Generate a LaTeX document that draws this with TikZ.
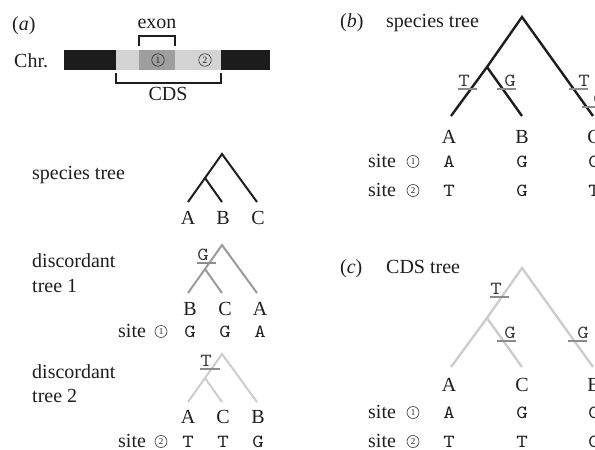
\documentclass[tikz,border=0pt]{standalone}
\usepackage{fontspec}
\setmainfont{Liberation Serif}
\setmonofont{lmmono10-regular.otf}[FakeStretch=1.18]

\definecolor{ink}{HTML}{1E1E1E}
\definecolor{chrblack}{HTML}{1C1C1C}
\definecolor{cdslight}{HTML}{D4D4D4}
\definecolor{exondark}{HTML}{9E9E9E}
\definecolor{treegray}{HTML}{9A9A9A}
\definecolor{treelight}{HTML}{CDCDCD}
\definecolor{mutgray}{HTML}{8C8C8C}
\definecolor{mutink}{HTML}{3A3A3A}

% a substitution: underlined base letter crossing a branch
% #1 name, #2 letter x, #3 line y, #4 line start x, #5 line end x, #6 base
\newcommand{\mutmark}[6]{%
  \draw[mutline] (#4,#3) -- (#5,#3);
  \node[nuc, text=mutink] (#1) at (#2,#3-2.5) {#6};}

% "site" with its circled number; #1 name, #2 x of "site", #3 x of circle, #4 baseline, #5 digit
\newcommand{\siterow}[5]{%
  \node[lefttext] (#1) at (#2,#4) {site};
  \node[sitenum] (#1n) at (#3,#4-5.5) {#5};}

\begin{document}
\begin{tikzpicture}[x=1pt,y=-1pt,
  serif/.style={inner sep=0pt, font=\fontsize{20}{24}\selectfont, text=ink},
  lefttext/.style={serif, anchor=base west},
  tiplab/.style={serif, anchor=base},
  nuc/.style={inner sep=0pt, anchor=base, font=\ttfamily\fontsize{18.5}{20}\selectfont, text=ink},
  sitenum/.style={circle, draw=ink, line width=0.55pt, inner sep=0pt,
    minimum size=12pt, font=\fontsize{9}{9}\selectfont, text=ink},
  branch/.style={line width=2pt, line join=miter},
  thick branch/.style={line width=2.4pt, line join=miter},
  mutline/.style={draw=mutgray, line width=1.8pt},
  bracket/.style={draw=ink, line width=1.5pt, line join=miter}]

\useasboundingbox (0,0) rectangle (595,450);
\clip (0,0) rectangle (595,450);

% ---------------- (a) chromosome ----------------
\node[lefttext] (alab) at (12,30) {(\textit{a})};
\node[lefttext] (chr) at (14,67) {Chr.};
\fill[chrblack] (64,50) rectangle (116,70);
\fill[cdslight] (116,50) rectangle (139,70);
\fill[exondark] (139,50) rectangle (175,70);
\fill[cdslight] (175,50) rectangle (221,70);
\fill[chrblack] (221,50) rectangle (270,70);
\node[sitenum, minimum size=12.5pt, font=\fontsize{9.5}{9.5}\selectfont] (c1) at (158,60) {1};
\node[sitenum, minimum size=12.5pt, font=\fontsize{9.5}{9.5}\selectfont] (c2) at (205,60) {2};
\draw[bracket] (139,46) -- (139,36) -- (175,36) -- (175,46);
\node[tiplab] (exon) at (157,28) {exon};
\draw[bracket] (116,73) -- (116,83) -- (221,83) -- (221,73);
\node[tiplab] (cds) at (168,100) {CDS};

% ---------------- (a) species tree ----------------
\node[lefttext] (sptxt) at (32,179) {species tree};
\coordinate (sR) at (222,154);
\coordinate (sI) at (205,178);
\coordinate (sA) at (188,202);
\coordinate (sB) at (222,202);
\coordinate (sC) at (257,202);
\draw[branch, draw=ink] (sA) -- (sI) -- (sR) -- (sC);
\draw[branch, draw=ink] (sI) -- (sB);
\node[tiplab] (sAl) at (188,224) {A};
\node[tiplab] (sBl) at (223,224) {B};
\node[tiplab] (sCl) at (258,224) {C};

% ---------------- (a) discordant tree 1 ----------------
\node[lefttext] (d1a) at (32,267) {discordant};
\node[lefttext] (d1b) at (32,292) {tree 1};
\coordinate (aR) at (222,245);
\coordinate (aI) at (205,269);
\coordinate (aB) at (188,293);
\coordinate (aC) at (222,293);
\coordinate (aA) at (257,293);
\draw[branch, draw=treegray] (aB) -- (aI) -- (aR) -- (aA);
\draw[branch, draw=treegray] (aI) -- (aC);
\mutmark{m1}{203}{263}{197}{216}{G}
\node[tiplab] (aBl) at (190,315) {B};
\node[tiplab] (aCl) at (225,315) {C};
\node[tiplab] (aAl) at (260,315) {A};
\siterow{s1}{118}{161}{337}{1}
\node[nuc] (v11) at (190,337) {G};
\node[nuc] (v12) at (225,337) {G};
\node[nuc] (v13) at (260,337) {A};

% ---------------- (a) discordant tree 2 ----------------
\node[lefttext] (d2a) at (32,378) {discordant};
\node[lefttext] (d2b) at (32,402) {tree 2};
\coordinate (bR) at (222,354);
\coordinate (bI) at (205,378);
\coordinate (bA) at (188,402);
\coordinate (bC) at (222,402);
\coordinate (bB) at (257,402);
\draw[branch, draw=treelight] (bA) -- (bI) -- (bR) -- (bB);
\draw[branch, draw=treelight] (bI) -- (bC);
\mutmark{m2}{206}{369}{200}{220}{T}
\node[tiplab] (bAl) at (188,423) {A};
\node[tiplab] (bCl) at (223,423) {C};
\node[tiplab] (bBl) at (258,423) {B};
\siterow{s2}{118}{161}{447}{2}
\node[nuc] (v21) at (188,447) {T};
\node[nuc] (v22) at (223,447) {T};
\node[nuc] (v23) at (258,447) {G};

% ---------------- (b) species tree with substitutions ----------------
\node[lefttext] (blab) at (340,27) {(\textit{b})};
\node[lefttext] (btxt) at (386,27) {species tree};
\coordinate (pR) at (522,17);
\coordinate (pI) at (487,67);
\coordinate (pA) at (451,116);
\coordinate (pB) at (522,116);
\coordinate (pC) at (593,116);
\draw[thick branch, draw=ink] (pA) -- (pI) -- (pR) -- (pC);
\draw[thick branch, draw=ink] (pI) -- (pB);
\mutmark{m3}{464}{89}{458}{477}{T}
\mutmark{m4}{510}{89}{497}{516}{G}
\mutmark{m5}{584}{89}{569}{588}{T}
\mutmark{m6}{599}{107}{582}{602}{G}
\node[tiplab] (pAl) at (449,143) {A};
\node[tiplab] (pBl) at (522,143) {B};
\node[tiplab] (pCl) at (594,143) {C};
\siterow{s3}{368}{413}{167}{1}
\node[nuc] (v31) at (449,167) {A};
\node[nuc] (v32) at (522,167) {G};
\node[nuc] (v33) at (594,167) {G};
\siterow{s4}{368}{413}{196}{2}
\node[nuc] (v41) at (449,196) {T};
\node[nuc] (v42) at (522,196) {G};
\node[nuc] (v43) at (594,196) {T};

% ---------------- (c) CDS tree ----------------
\node[lefttext] (clab) at (340,273) {(\textit{c})};
\node[lefttext] (ctxt) at (386,273) {CDS tree};
\coordinate (qR) at (522,268);
\coordinate (qI) at (487,318);
\coordinate (qA) at (451,367);
\coordinate (qC) at (522,367);
\coordinate (qB) at (593,367);
\draw[thick branch, draw=treelight] (qA) -- (qI) -- (qR) -- (qB);
\draw[thick branch, draw=treelight] (qI) -- (qC);
\mutmark{m7}{496}{297}{490}{509}{T}
\mutmark{m8}{510}{341}{497}{516}{G}
\mutmark{m9}{583}{341}{568}{587}{G}
\node[tiplab] (qAl) at (449,391) {A};
\node[tiplab] (qCl) at (522,391) {C};
\node[tiplab] (qBl) at (594,391) {B};
\siterow{s5}{368}{413}{418}{1}
\node[nuc] (v51) at (449,418) {A};
\node[nuc] (v52) at (522,418) {G};
\node[nuc] (v53) at (594,418) {G};
\siterow{s6}{368}{413}{447}{2}
\node[nuc] (v61) at (449,447) {T};
\node[nuc] (v62) at (522,447) {T};
\node[nuc] (v63) at (594,447) {G};
\end{tikzpicture}
\end{document}
